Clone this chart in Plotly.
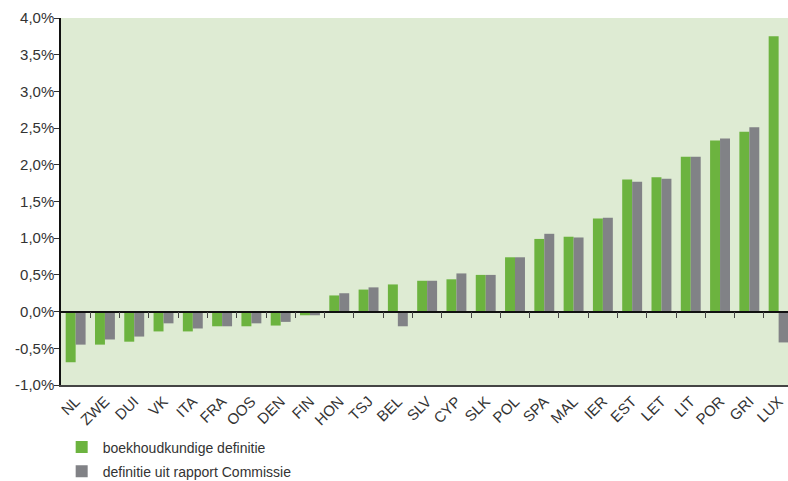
import plotly.graph_objects as go

categories = ["NL", "ZWE", "DUI", "VK", "ITA", "FRA", "OOS", "DEN", "FIN", "HON", "TSJ", "BEL",
              "SLV", "CYP", "SLK", "POL", "SPA", "MAL", "IER", "EST", "LET", "LIT", "POR", "GRI", "LUX"]
boekhoud = [-0.69, -0.45, -0.41, -0.27, -0.27, -0.20, -0.20, -0.19, -0.05, 0.22, 0.30, 0.37,
            0.42, 0.44, 0.50, 0.74, 0.99, 1.02, 1.27, 1.80, 1.83, 2.11, 2.33, 2.45, 3.75]
commissie = [-0.45, -0.38, -0.34, -0.16, -0.23, -0.20, -0.16, -0.14, -0.05, 0.25, 0.33, -0.20,
             0.42, 0.52, 0.50, 0.74, 1.06, 1.01, 1.28, 1.77, 1.81, 2.11, 2.36, 2.51, -0.42]
ytick_vals = [-1.0, -0.5, 0.0, 0.5, 1.0, 1.5, 2.0, 2.5, 3.0, 3.5, 4.0]
ytick_text = ["-1,0%", "-0,5%", "0,0%", "0,5%", "1,0%", "1,5%", "2,0%", "2,5%", "3,0%", "3,5%", "4,0%"]
series_names = ["boekhoudkundige definitie", "definitie uit rapport Commissie"]

GREEN = "#6cb33f"
GREY = "#818286"
BG = "#deebd3"
FONT = "Liberation Sans, Arial, sans-serif"

n = len(categories)
xs = list(range(n))

fig = go.Figure()
fig.add_trace(go.Bar(x=xs, y=boekhoud, name=series_names[0], marker_color=GREEN,
                     marker_line_width=0, legendgroup="a"))
fig.add_trace(go.Bar(x=xs, y=commissie, name=series_names[1], marker_color=GREY,
                     marker_line_width=0, legendgroup="b"))
# helper (invisible) trace so the zero-line tick axis is drawn
fig.add_trace(go.Scatter(x=[None], y=[None], xaxis="x2", showlegend=False,
                         hoverinfo="skip", mode="markers"))

xr = [-0.5, 24.32]
y_lo, y_hi = -1.0, 4.0

fig.update_layout(
    width=788, height=481,
    margin=dict(l=61, r=0, t=18, b=96, autoexpand=False),
    paper_bgcolor="white",
    plot_bgcolor=BG,
    barmode="group",
    bargap=0.32,
    bargroupgap=0,
    font=dict(family=FONT, size=15, color="#333333"),
    showlegend=True,
    legend=dict(x=0.077, y=0.103, xref="container", yref="container",
                xanchor="left", yanchor="top", orientation="v",
                font=dict(size=14, color="#333333"), tracegroupgap=3,
                bgcolor="rgba(0,0,0,0)", itemwidth=32),
    xaxis=dict(range=xr, tickmode="array", tickvals=xs, ticktext=categories,
               tickangle=-45, showgrid=False, zeroline=False, ticks="",
               showline=True, linecolor="#444444", linewidth=1.5, automargin=False,
               ticklabelstandoff=0,
               tickfont=dict(size=15, color="#333333")),
    xaxis2=dict(overlaying="x", anchor="free", position=(0 - y_lo) / (y_hi - y_lo),
                range=xr, tickmode="array", tickvals=[i + 0.5 for i in range(n - 1)],
                ticks="outside", ticklen=6, tickcolor="#444444", tickwidth=1,
                showticklabels=False, showgrid=False, zeroline=False, automargin=False,
                showline=True, linecolor="#111111", linewidth=1.5),
    yaxis=dict(range=[y_lo, y_hi], tickmode="array", tickvals=ytick_vals, ticktext=ytick_text,
               showgrid=False, zeroline=False, ticks="outside", ticklen=5, automargin=False,
               tickcolor="#333333", showline=True, linecolor="#111111", linewidth=1.5,
               ticklabelstandoff=-3,
               tickfont=dict(size=15, color="#333333")),
)

fig.write_html("out.html", config={"displayModeBar": False},
               post_script="document.body.style.margin='0';document.body.style.overflow='hidden';")
